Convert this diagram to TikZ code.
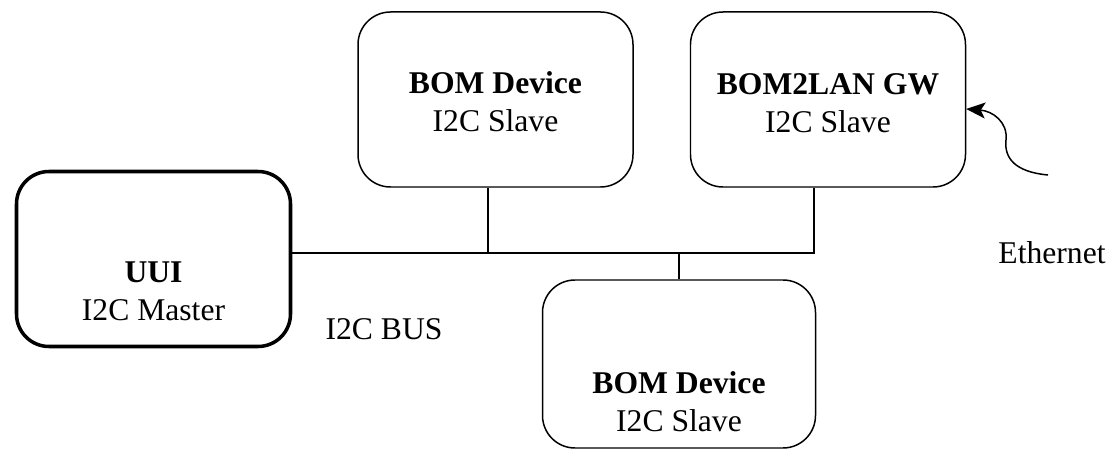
\documentclass[tikz,border=0pt]{standalone}
\usepackage{fontspec}
\setmainfont{Liberation Serif}
\usepackage{tikz}
\usetikzlibrary{positioning, arrows.meta}

\begin{document}
\begin{tikzpicture}
    \tikzstyle{dev} = [rectangle, draw, line width=0.85pt, rounded corners=0.65cm, minimum width=5.5cm, minimum height=3.5cm]
    \tikzstyle{master} = [dev, line width=2pt, minimum width=5.48cm, minimum height=3.5cm]
    \tikzstyle{txt} = [align=center, inner sep=0pt, font=\fontsize{18}{21.5}\selectfont]
    \tikzstyle{bus} = [line width=0.85pt]
    \tikzstyle{arrow} = [line width=0.85pt, ->, >={Stealth[length=3.8mm, width=3.2mm, inset=0.9mm]}]

    \useasboundingbox (0,0) rectangle (22.28,9.06);

    % boxes on the bus
    \node [master] (uui) at (3.07,3.88) {};
    \node [dev] (topdev) at (9.91,7.07) {};
    \node [dev, right=1.12cm of topdev] (gw) {};
    \node [dev, minimum width=5.46cm, minimum height=3.36cm] (botdev) at (13.58,1.78) {};

    \node [txt] (uuitxt) at ([yshift=-0.65cm]uui.center) {\textbf{UUI}\\I2C Master};
    \node [txt] (toptxt) at ([yshift=-0.04cm]topdev.center) {\textbf{BOM Device}\\I2C Slave};
    \node [txt] (gwtxt) at ([yshift=-0.07cm]gw.center) {\textbf{BOM2LAN GW}\\I2C Slave};
    \node [txt] (bottxt) at ([yshift=-0.75cm]botdev.center) {\textbf{BOM Device}\\I2C Slave};

    % the bus itself
    \coordinate (tapA) at (9.76,4.0);
    \coordinate (busR) at (16.28,4.0);
    \draw [bus] (uui.east |- busR) -- (busR) -- (busR |- gw.south);
    \draw [bus] (tapA) -- (tapA |- topdev.south);
    \draw [bus] (botdev.north) -- (botdev.north |- busR);

    \node [txt] (buslbl) at (7.68,2.48) {I2C BUS};

    % ethernet link into the gateway
    \coordinate (ethsrc) at (20.96,5.56);
    \draw [arrow] (ethsrc) .. controls (20.30,5.62) and (20.08,5.90) .. (20.12,6.26)
        .. controls (20.16,6.62) and (19.85,6.84) .. ([yshift=-0.19cm]gw.east);
    \node [txt] (ethlbl) at (21.04,4.0) {Ethernet};
\end{tikzpicture}
\end{document}
